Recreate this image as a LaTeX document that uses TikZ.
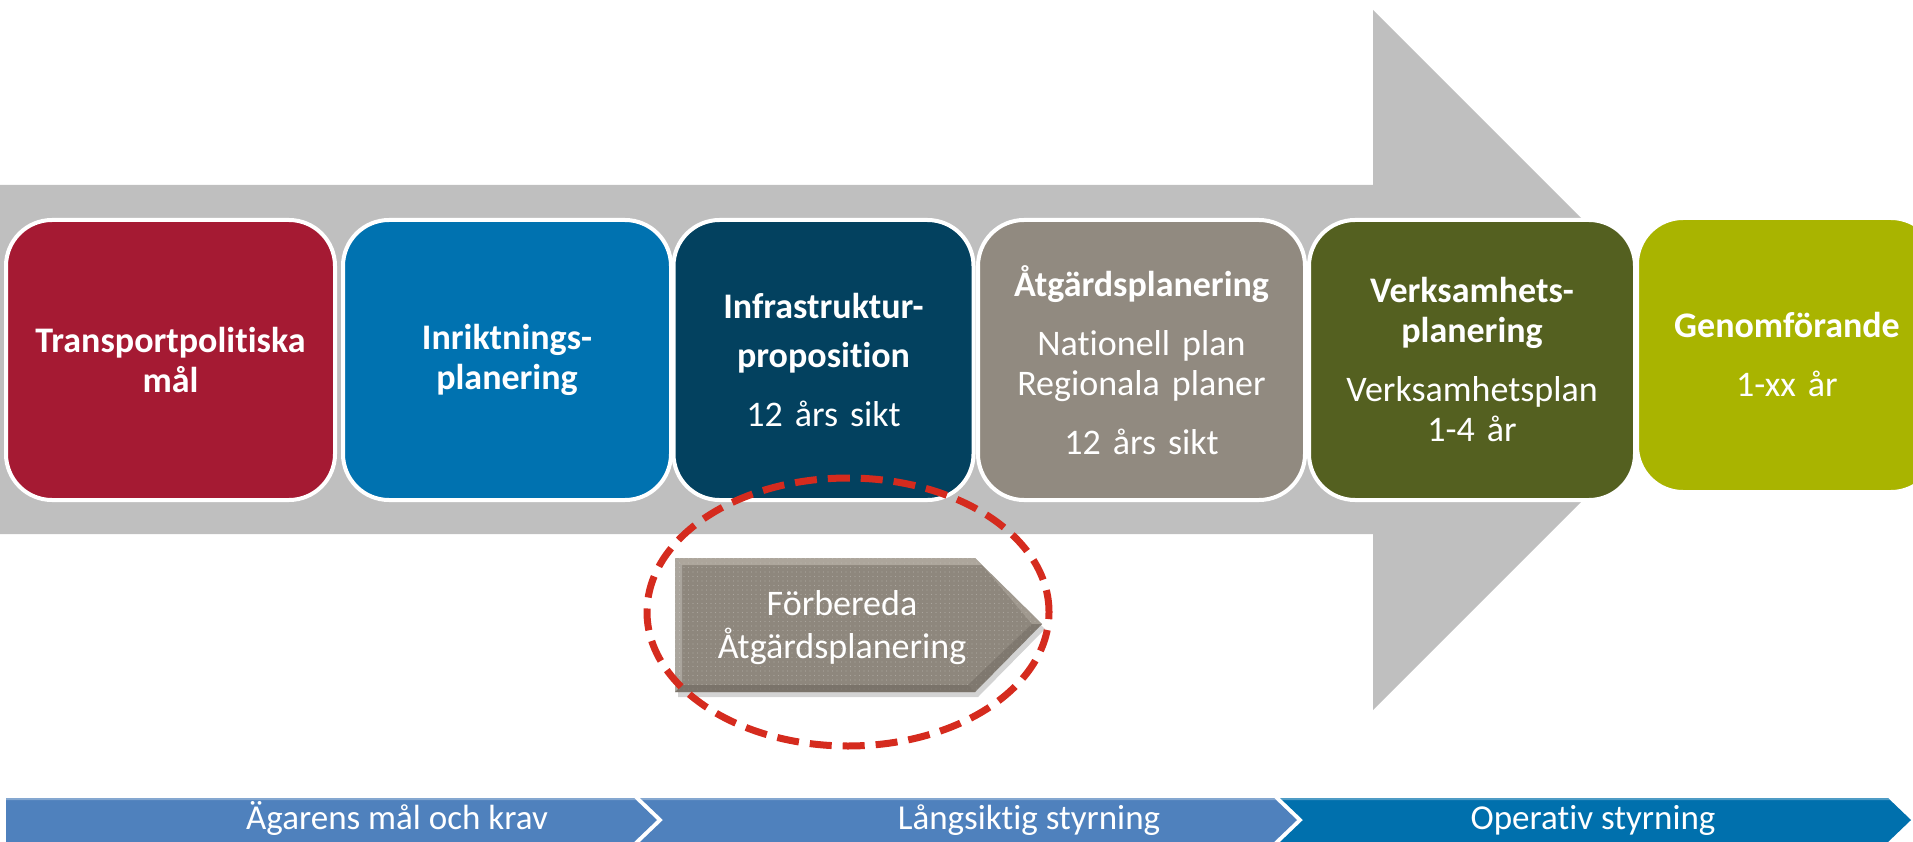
\documentclass[tikz,border=0pt]{standalone}
\usepackage{fontspec}
\setmainfont{Carlito}[Ligatures=NoCommon]
\usetikzlibrary{shapes.geometric,shadows,patterns.meta}
\definecolor{grayarrow}{HTML}{BFBFBF}
\definecolor{cred}{HTML}{A51A33}
\definecolor{cblue}{HTML}{0072B0}
\definecolor{cnavy}{HTML}{03415F}
\definecolor{ctaupe}{HTML}{918A80}
\definecolor{colive}{HTML}{546020}
\definecolor{clime}{HTML}{A9B400}
\definecolor{dashred}{HTML}{D52B1E}
\definecolor{barblue}{HTML}{4F81BD}
\definecolor{barbluetwo}{HTML}{0070AD}
\definecolor{prepbody}{HTML}{8E877D}
\definecolor{prepdark}{HTML}{6E675E}
\definecolor{preplight}{HTML}{C2BCB2}
\begin{document}
\begin{tikzpicture}[x=1pt,y=-1pt,
  stage/.style={draw=white, line width=4pt, rounded corners=46pt,
    minimum width=#1, minimum height=280pt, text width=300pt, align=center,
    text=white, inner sep=0pt, font=\fontsize{36}{40}\selectfont},
  bartext/.style={text=white, font=\fontsize{35}{40}\selectfont, anchor=base, inner sep=0pt},
  preptext/.style={text=white, align=center, font=\fontsize{36}{43}\selectfont, inner sep=0pt}]
\useasboundingbox (0,0) rectangle (1913,842);
% big gray arrow
\fill[grayarrow] (0,185) -- (1373,185) -- (1373,10) -- (1723,360) -- (1373,710) -- (1373,534) -- (0,534) -- cycle;
% stages
\node[stage=329, fill=cred] (tpm) at (170.5,360) {\textbf{Transportpolitiska}\\\textbf{mål}};
\node[stage=328, fill=cblue] (inr) at (507,360) {\textbf{Inriktnings-}\\\textbf{planering}};
\node[stage=297, fill=cnavy] (inf) at (823.5,360) {\textbf{Infrastruktur-}\\[9pt]\textbf{proposition}\\[19pt]12 års sikt};
\node[stage=327, fill=ctaupe] (atg) at (1141.5,360) {\textbf{Åtgärdsplanering}\\[19pt]Nationell plan\\Regionala planer\\[19pt]12 års sikt};
\node[stage=326, fill=colive] (verk) at (1472,360) {\textbf{Verksamhets-}\\\textbf{planering}\\[19pt]Verksamhetsplan\\1-4 år};
\node[stage=300, fill=clime, minimum height=274pt] (gen) at (1787,355) {\textbf{Genomförande}\\[19pt]1-xx år};
% prepare arrow
\fill[prepbody, drop shadow={shadow xshift=3pt, shadow yshift=-5pt, opacity=.35}]
  (675,558) -- (975,558) -- (1042,624) -- (975,692) -- (675,692) -- cycle;
\fill[pattern={Dots[distance=4.5pt, radius=0.7pt]}, pattern color=white, opacity=.25]
  (675,558) -- (975,558) -- (1042,624) -- (975,692) -- (675,692) -- cycle;
\fill[preplight, opacity=.6] (675,558) -- (975,558) -- (982,565) -- (682,565) -- cycle;
\fill[white, opacity=.25] (675,558) -- (682,565) -- (682,685) -- (675,692) -- cycle;
\fill[prepdark, opacity=.6] (675,692) -- (975,692) -- (968,685) -- (682,685) -- cycle;
\fill[prepdark, opacity=.45] (1042,624) -- (975,692) -- (968,685) -- (1032,624) -- cycle;
\fill[preplight, opacity=.35] (975,558) -- (1042,624) -- (1032,624) -- (982,565) -- cycle;
\node[preptext] (prep) at (842,628) {Förbereda\\Åtgärdsplanering};
% dashed ellipse
\node[ellipse, draw=dashred, line width=7pt, dash pattern=on 22pt off 11pt,
  minimum width=402pt, minimum height=268pt, inner sep=0pt] (ring) at (848,612) {};
% bottom chevron bar
\fill[barblue] (6,798) -- (634,798) -- (657,820) -- (634,842) -- (6,842) -- cycle;
\fill[barblue] (640,798) -- (1274,798) -- (1297,820) -- (1274,842) -- (640,842) -- (663,820) -- cycle;
\fill[barbluetwo] (1280,798) -- (1888,798) -- (1911,820) -- (1888,842) -- (1280,842) -- (1303,820) -- cycle;
\fill[white, opacity=.3] (6,798) -- (634,798) -- (636,800) -- (6,800) -- cycle;
\fill[white, opacity=.3] (640,798) -- (1274,798) -- (1276,800) -- (642,800) -- cycle;
\fill[white, opacity=.3] (1280,798) -- (1888,798) -- (1890,800) -- (1282,800) -- cycle;
\node[bartext] (own) at (397,829) {Ägarens mål och krav};
\node[bartext] (long) at (1029,829) {Långsiktig styrning};
\node[bartext] (oper) at (1593,829) {Operativ styrning};
\end{tikzpicture}
\end{document}
